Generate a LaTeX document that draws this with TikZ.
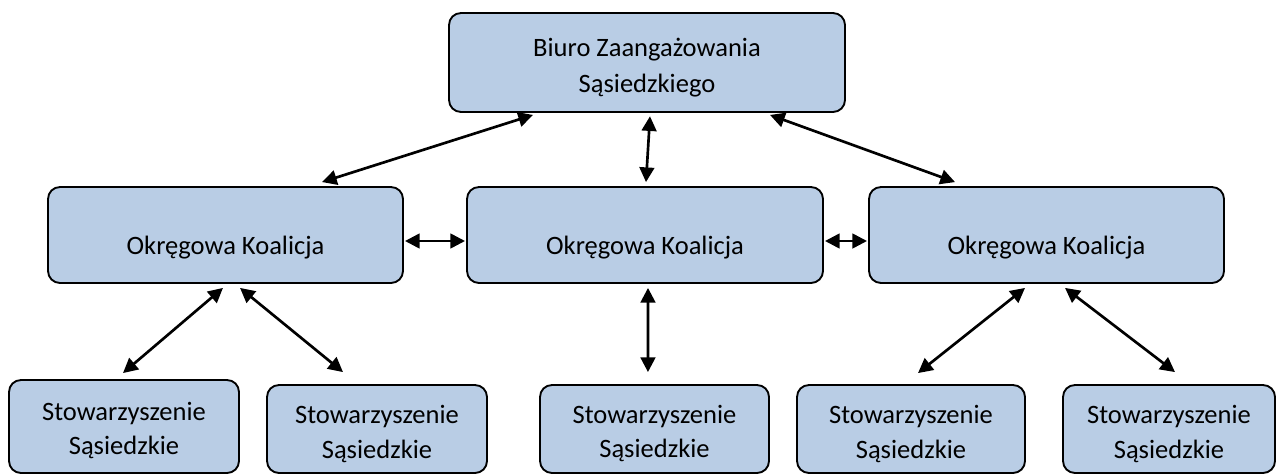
\documentclass[tikz,border=0pt]{standalone}
\usepackage{fontspec}
\setmainfont{Carlito}
\usetikzlibrary{arrows.meta}
\definecolor{boxfill}{HTML}{B9CDE5}
\tikzset{
  px/.style={x=0.75pt,y=-0.75pt},
  orgbox/.style 2 args={draw=black, line width=1.4pt, fill=boxfill, rounded corners=9pt,
    minimum width=#1*0.75pt, minimum height=#2*0.75pt, align=center, inner sep=0pt},
  txt/.style={font=\fontsize{19.9}{26}\selectfont, align=center, inner sep=0pt},
  toptxt/.style={font=\fontsize{19.9}{27}\selectfont, align=center, inner sep=0pt},
  biarrow/.style={line width=2pt, {Triangle[length=11pt,width=11pt]}-{Triangle[length=11pt,width=11pt]}}
}
\begin{document}
\begin{tikzpicture}[px]
\useasboundingbox (0,0) rectangle (1283,475);
% top
\node[orgbox={396}{99}, label={[toptxt,yshift=-3.5pt]center:Biuro Zaangażowania\\Sąsiedzkiego}] (top) at (647,62.5) {};
% middle row
\node[orgbox={355}{96}, label={[txt,yshift=-9.5pt]center:Okręgowa Koalicja}] (m1) at (225.5,235) {};
\node[orgbox={356}{96}, label={[txt,yshift=-9.5pt]center:Okręgowa Koalicja}] (m2) at (645,235) {};
\node[orgbox={355}{96}, label={[txt,yshift=-9.5pt]center:Okręgowa Koalicja}] (m3) at (1046.5,235) {};
% bottom row
\node[orgbox={230}{93}, label={[txt,yshift=-3pt]center:Stowarzyszenie\\Sąsiedzkie}] (b1) at (124,426.5) {};
\node[orgbox={220}{88}, label={[txt,yshift=-4pt]center:Stowarzyszenie\\Sąsiedzkie}] (b2) at (377,429) {};
\node[orgbox={229}{88}, label={[txt,yshift=-3.5pt]center:Stowarzyszenie\\Sąsiedzkie}] (b3) at (654.5,429) {};
\node[orgbox={228}{88}, label={[txt,yshift=-4pt]center:Stowarzyszenie\\Sąsiedzkie}] (b4) at (911,429) {};
\node[orgbox={212}{88}, label={[txt,yshift=-4pt]center:Stowarzyszenie\\Sąsiedzkie}] (b5) at (1169,429) {};
% connectors
\draw[biarrow] ([xshift=72.4pt,yshift=3pt]m1.north) -- ([xshift=-85.5pt,yshift=-1.5pt]top.south);
\draw[biarrow] ([xshift=0.75pt,yshift=3pt]m2.north) -- ([xshift=2.25pt,yshift=-2.5pt]top.south);
\draw[biarrow] ([xshift=-68.6pt,yshift=3pt]m3.north) -- ([xshift=92.25pt,yshift=-1.5pt]top.south);
\draw[biarrow] ([xshift=0.8pt,yshift=-4.5pt]m1.east) -- ([xshift=-0.8pt,yshift=-4.5pt]m2.west);
\draw[biarrow] ([xshift=0.8pt,yshift=-4.5pt]m2.east) -- ([xshift=-0.8pt,yshift=-4.5pt]m3.west);
\draw[biarrow] ([xshift=-1.9pt,yshift=-3pt]m1.south) -- ([xshift=-0.75pt,yshift=4.5pt]b1.north);
\draw[biarrow] ([xshift=10.9pt,yshift=-3pt]m1.south) -- ([xshift=-25.5pt,yshift=9pt]b2.north);
\draw[biarrow] ([xshift=2.25pt,yshift=-3pt]m2.south) -- ([xshift=-4.9pt,yshift=9pt]b3.north);
\draw[biarrow] ([xshift=-16.1pt,yshift=-3pt]m3.south) -- ([xshift=5.25pt,yshift=8.25pt]b4.north);
\draw[biarrow] ([xshift=13.9pt,yshift=-3pt]m3.south) -- ([xshift=4.5pt,yshift=9pt]b5.north);
\end{tikzpicture}
\end{document}
